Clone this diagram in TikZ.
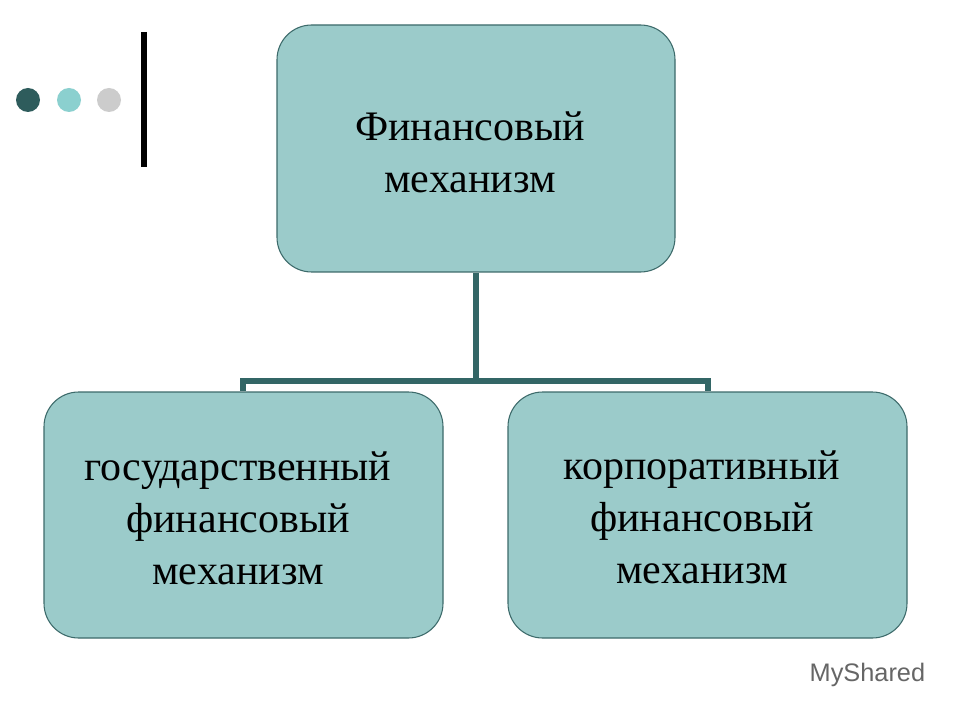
\documentclass[tikz,border=0pt]{standalone}
\usepackage{fontspec}
\setmainfont{Liberation Serif}
\newfontfamily\wm{Liberation Sans}
\definecolor{boxfill}{HTML}{9BCBCA}
\definecolor{boxline}{HTML}{3C6A6A}
\definecolor{conn}{HTML}{336666}
\begin{document}
\begin{tikzpicture}[x=0.75pt,y=-0.75pt,
  box/.style={draw=boxline,line width=0.8pt,fill=boxfill,rounded corners=26pt},
  lbl/.style={align=center,font=\fontsize{31.5}{39}\selectfont,text=black},
  conn/.style={draw=conn,line width=4pt}]
\useasboundingbox (0,0) rectangle (960,720);
\fill[white] (0,0) rectangle (960,720);
\fill[conn!90!black] (28,100) circle (12);
\fill[boxfill!90!cyan] (69,100) circle (12);
\fill[black!20] (109,100) circle (12);
\draw[black,line width=3.8pt] (144,32) -- (144,167);
\draw[box] (277,25) rectangle (675,272);
\draw[box] (44,392) rectangle (443,638);
\draw[box] (508,392) rectangle (907,638);
\node[lbl] (top) at (470,152) {Финансовый\\ механизм};
\node[lbl] (left) at (238,518) {государственный\\ финансовый\\ механизм};
\node[lbl] (right) at (702,517) {корпоративный\\ финансовый\\ механизм};
\coordinate (t) at (476,273);
\coordinate (j) at (476,381);
\coordinate (l) at (243,391);
\coordinate (r) at (708,391);
\draw[conn] (t) -- (j);
\draw[conn,line join=miter] (l) |- (j) -| (r);
\node[text=black!60,font=\wm\fontsize{19}{20}\selectfont,anchor=west] (wm) at (805,675) {MyShared};
\end{tikzpicture}
\end{document}
